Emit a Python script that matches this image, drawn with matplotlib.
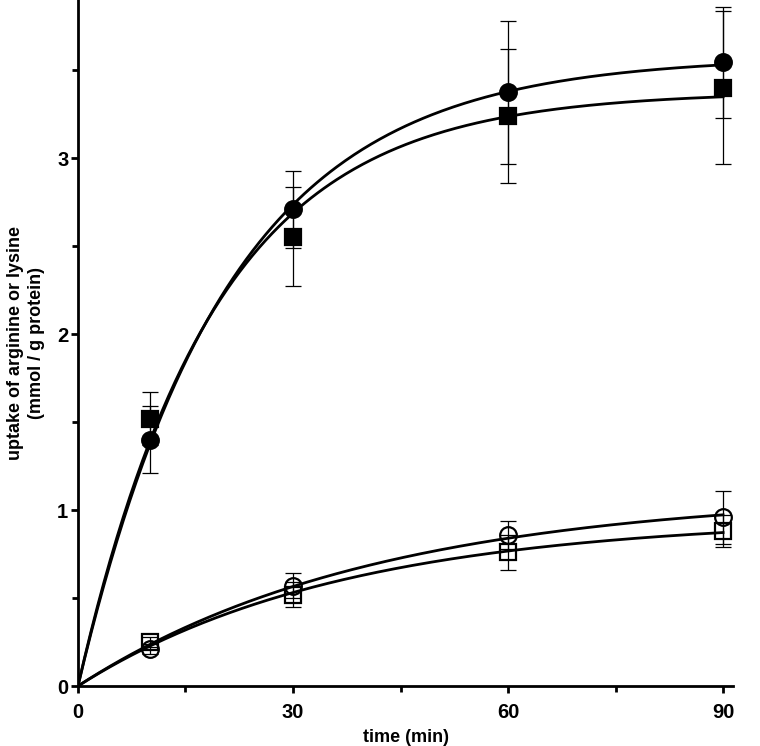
import matplotlib.pyplot as plt
import numpy as np

plt.rcParams["font.family"] = ["Liberation Sans", "DejaVu Sans"]
plt.rcParams["font.weight"] = "bold"

# time points (min)
time = np.array([10, 30, 60, 90])

# filled symbols
arg_filled = np.array([1.40, 2.71, 3.375, 3.545])
arg_filled_err = np.array([0.19, 0.22, 0.405, 0.315])
lys_filled = np.array([1.52, 2.555, 3.24, 3.40])
lys_filled_err = np.array([0.15, 0.28, 0.38, 0.435])

# open symbols
arg_open = np.array([0.21, 0.57, 0.86, 0.96])
arg_open_err = np.array([0.03, 0.07, 0.08, 0.15])
lys_open = np.array([0.25, 0.52, 0.76, 0.88])
lys_open_err = np.array([0.03, 0.07, 0.10, 0.09])

x_ticks = [0, 30, 60, 90]
y_ticks = [0, 1, 2, 3]


def fit_uptake(t, y):
    # least squares fit of y = A * (1 - exp(-k t)), grid over k
    best = None
    for k in np.linspace(0.001, 0.3, 3000):
        f = 1 - np.exp(-k * t)
        a = np.dot(f, y) / np.dot(f, f)
        err = np.sum((y - a * f) ** 2)
        if best is None or err < best[0]:
            best = (err, a, k)
    return best[1], best[2]


fig = plt.figure(figsize=(7.6, 7.46), dpi=100)
ax = fig.add_axes([0.1026, 0.0804, 0.862, 0.9196])

t_fine = np.linspace(0, 90, 300)
series = [
    (arg_filled, arg_filled_err, "o", "k"),
    (lys_filled, lys_filled_err, "s", "k"),
    (arg_open, arg_open_err, "o", "none"),
    (lys_open, lys_open_err, "s", "none"),
]
for y, yerr, marker, face in series:
    a, k = fit_uptake(time, y)
    ax.plot(t_fine, a * (1 - np.exp(-k * t_fine)), color="k", lw=2.0, zorder=2)
    ax.errorbar(time, y, yerr=yerr, fmt="none", ecolor="k", elinewidth=0.9,
                capsize=6, capthick=0.9, zorder=3)
    ms = 12 if marker == "o" else 11
    ax.plot(time, y, marker, ms=ms, mfc=face, mec="k", mew=1.6, zorder=4)

ax.set_xlim(0, 91.4)
ax.set_ylim(0, 3.9)
ax.set_xticks(x_ticks)
ax.set_yticks(y_ticks)
ax.set_xticks([15, 45, 75], minor=True)
ax.set_yticks([0.5, 1.5, 2.5, 3.5], minor=True)
ax.spines["top"].set_visible(False)
ax.spines["right"].set_visible(False)
for s in ["left", "bottom"]:
    ax.spines[s].set_linewidth(2.0)
ax.tick_params(which="major", length=5, width=2.0, labelsize=14.5, pad=2)
ax.tick_params(which="minor", length=4, width=2.0)
ax.tick_params(axis="x", which="major", pad=7)

ax.set_xlabel("time (min)", fontsize=13, fontweight="bold", labelpad=5)
ax.set_ylabel("uptake of arginine or lysine\n(mmol / g protein)",
              fontsize=13, fontweight="bold", labelpad=9, linespacing=1.3)

fig.savefig("out.png", dpi=100)
